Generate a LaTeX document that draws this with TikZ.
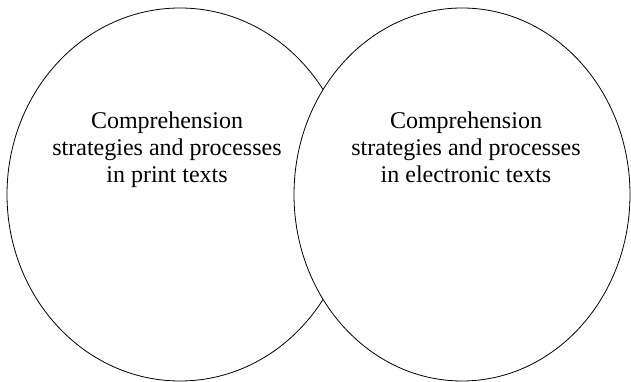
\documentclass[tikz,border=0pt]{standalone}
\usepackage{fontspec}
\setmainfont{Liberation Serif}
\usetikzlibrary{shapes.geometric, positioning}
\tikzstyle{set} = [ellipse, draw=black, fill=white, line width=0.8pt, minimum height=373pt, inner sep=0pt]
\tikzstyle{setLabel} = [anchor=north, text centered, align=center, font=\fontsize{24}{27}\selectfont]

\begin{document}
\begin{tikzpicture}[x=1pt, y=1pt]
    \useasboundingbox (0,0) rectangle (631,382);
    % the two overlapping sets, the right one drawn over the left
    \node (print) [set, minimum width=346pt] at (180,187.5) {};
    \node (electronic) [set, minimum width=336pt] at (462,187.5) {};
    % their labels, in the upper half of each set
    \node (printLabel) [setLabel] at (167,273.5) {Comprehension\\strategies and processes\\in print texts};
    \node (electronicLabel) [setLabel] at (466,273.5) {Comprehension\\strategies and processes\\in electronic texts};
\end{tikzpicture}
\end{document}
